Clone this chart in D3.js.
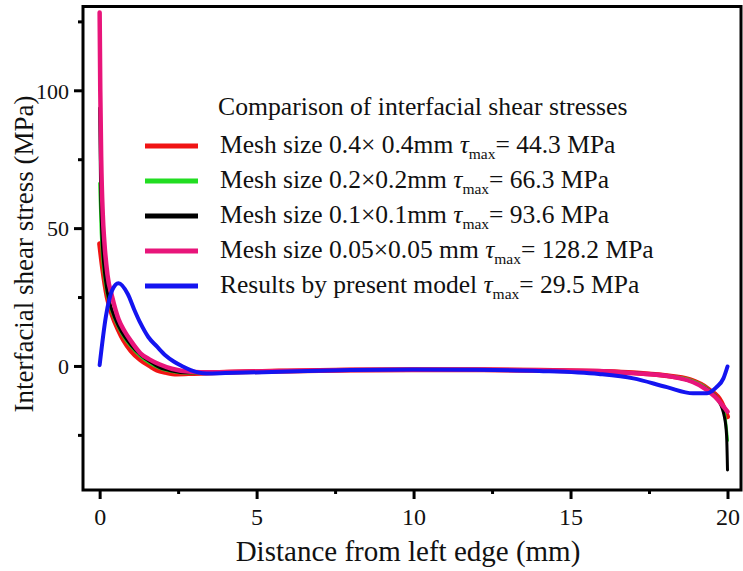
<!DOCTYPE html>
<html>
<head>
<meta charset="utf-8">
<script src="https://cdn.jsdelivr.net/npm/d3@7"></script>
<style>
  html, body { margin: 0; padding: 0; background: #fff; }
  svg text { font-family: "Liberation Serif", "Times New Roman", serif; fill: #111; }
</style>
</head>
<body>
<div id="chart"></div>
<script>
// x positions (mm) and stresses (MPa)
const meshX04 = [0, 0.1, 0.24, 0.4, 0.6, 0.76, 1.0, 1.3, 1.6, 1.83, 2.1, 2.46, 3.0, 4, 6, 8, 10, 12, 14, 16, 17, 18, 18.8, 19.4, 19.8, 20];
const meshY04 = [44.3, 35, 25, 18.5, 13, 9.4, 5.5, 2.2, 0, -1.5, -2.3, -2.9, -2.7, -2.3, -1.8, -1.5, -1.4, -1.4, -1.6, -2.0, -2.5, -3.5, -5, -8.5, -13, -18.4];

const meshX02 = [0, 0.05, 0.12, 0.24, 0.4, 0.6, 0.8, 1.0, 1.3, 1.6, 1.9, 2.3, 2.8, 3.5, 4.5, 6, 8, 10, 12, 14, 16, 17, 18, 18.8, 19.4, 19.7, 19.9, 20];
const meshY02 = [66.3, 48, 36, 26, 19.5, 14, 10, 7, 3.5, 1.0, -0.8, -2.0, -2.6, -2.5, -2.2, -1.8, -1.5, -1.4, -1.4, -1.6, -2.0, -2.5, -3.5, -5, -8.6, -12, -17, -27];

const meshX01 = [0, 0.03, 0.07, 0.13, 0.24, 0.4, 0.6, 0.8, 1.0, 1.3, 1.6, 1.9, 2.3, 2.8, 3.5, 4.5, 6, 8, 10, 12, 14, 16, 17, 18, 19.0, 19.4, 19.7, 19.9, 19.97, 20];
const meshY01 = [93.6, 65, 48, 37, 27, 20, 14.5, 10.5, 7.5, 4, 1.5, -0.5, -1.8, -2.5, -2.5, -2.2, -1.8, -1.5, -1.4, -1.4, -1.6, -2.0, -2.5, -3.5, -6.3, -8.8, -12.3, -18.4, -25, -37.7];

const meshX005 = [0, 0.02, 0.05, 0.1, 0.15, 0.25, 0.4, 0.6, 0.8, 1.0, 1.3, 1.6, 1.9, 2.3, 2.9, 3.5, 4.5, 6, 8, 10, 12, 14, 15.9, 17, 18.07, 19.1, 19.6, 20];
const meshY005 = [128.2, 100, 75, 55, 45, 33, 25, 17, 12.5, 9, 4.6, 2.3, 0.6, -1.0, -2.1, -2.3, -2.1, -1.8, -1.5, -1.4, -1.4, -1.6, -1.8, -2.6, -3.6, -6.9, -11.1, -16.6];

const modelX = [0, 0.2, 0.4, 0.6, 0.9, 1.1, 1.3, 1.55, 1.83, 2.1, 2.36, 2.65, 2.9, 3.4, 4, 6, 8, 10, 12, 14, 15.9, 17.0, 18.07, 18.9, 19.35, 19.65, 19.87, 20];
const modelY = [0.3, 18, 27.5, 30, 26, 20.5, 15.5, 10.5, 7, 3.8, 1.6, -0.2, -1.5, -2.7, -2.6, -2.0, -1.5, -1.3, -1.4, -1.8, -2.9, -4.5, -7.7, -9.9, -9.9, -7.7, -4.5, -0.2];

const seriesNames = ['Mesh size 0.4\u00d7 0.4mm ', 'Mesh size 0.2\u00d70.2mm ', 'Mesh size 0.1\u00d70.1mm ', 'Mesh size 0.05\u00d70.05 mm ', 'Results by present model '];
const tauMax = ['44.3', '66.3', '93.6', '128.2', '29.5'];
const seriesColors = ['#f01414', '#22dd22', '#000000', '#e8157a', '#1414f0'];
const seriesWidths = [5, 3, 3, 4.5, 4];
const seriesX = [meshX04, meshX02, meshX01, meshX005, modelX];
const seriesY = [meshY04, meshY02, meshY01, meshY005, modelY];

const xMajor = [0, 5, 10, 15, 20];
const xMinor = [2.5, 7.5, 12.5, 17.5];
const yMajor = [0, 50, 100];
const yMinor = [-25, 25, 75, 125];

const legendTitle = 'Comparison of interfacial shear stresses';
const xTitle = 'Distance from left edge (mm)';
const yTitle = 'Interfacial shear stress (MPa)';

const W = 743, H = 571;
const serif = '"Liberation Serif", "Times New Roman", serif';
const svg = d3.select('#chart').append('svg').attr('width', W).attr('height', H);

const x = d3.scaleLinear().domain([-0.53, 20.43]).range([83, 741]);
const y = d3.scaleLinear().domain([-45, 130.4]).range([490, 6.5]);

// curves
const line = d3.line().x(d => x(d[0])).y(d => y(d[1])).curve(d3.curveMonotoneX);
seriesX.forEach((xs, i) => {
  svg.append('path')
    .datum(xs.map((v, j) => [v, seriesY[i][j]]))
    .attr('d', line)
    .attr('fill', 'none')
    .attr('stroke', seriesColors[i])
    .attr('stroke-width', seriesWidths[i])
    .attr('stroke-linejoin', 'round')
    .attr('stroke-linecap', 'round');
});

// axes
const xAxis = svg.append('g').attr('transform', 'translate(0,490)')
  .call(d3.axisBottom(x).tickValues(xMajor).tickSize(9).tickFormat(d3.format('d')));
svg.append('g').attr('transform', 'translate(0,490)')
  .call(d3.axisBottom(x).tickValues(xMinor).tickSize(4).tickFormat(''));
const yAxis = svg.append('g').attr('transform', 'translate(83,0)')
  .call(d3.axisLeft(y).tickValues(yMajor).tickSize(9).tickFormat(d3.format('d')));
svg.append('g').attr('transform', 'translate(83,0)')
  .call(d3.axisLeft(y).tickValues(yMinor).tickSize(5).tickFormat(''));

svg.selectAll('.domain').remove();
svg.selectAll('.tick line').attr('stroke', '#000').attr('stroke-width', 3);
xAxis.attr('font-family', null);
yAxis.attr('font-family', null);
xAxis.selectAll('.tick text').style('font-family', serif).style('font-size', '24px')
  .attr('dy', 0).attr('y', 35);
yAxis.selectAll('.tick text').style('font-family', serif).style('font-size', '22px')
  .attr('x', -14).attr('dy', '0.35em');

// frame
svg.append('rect')
  .attr('x', x.range()[0]).attr('y', y.range()[1])
  .attr('width', x.range()[1] - x.range()[0]).attr('height', y.range()[0] - y.range()[1])
  .attr('fill', 'none').attr('stroke', '#000').attr('stroke-width', 3);

// axis titles
svg.append('text').attr('x', 408).attr('y', 561)
  .attr('text-anchor', 'middle').attr('font-size', 29).text(xTitle);
svg.append('text').attr('transform', 'translate(33,254) rotate(-90)')
  .attr('text-anchor', 'middle').attr('font-size', 27).text(yTitle);

// legend
svg.append('text').attr('x', 218).attr('y', 115).attr('font-size', 25.7).text(legendTitle);
const leg = svg.append('g');
seriesNames.forEach((name, i) => {
  const ly = 146 + i * 35;
  leg.append('line').attr('x1', 145).attr('x2', 198).attr('y1', ly).attr('y2', ly)
    .attr('stroke', seriesColors[i]).attr('stroke-width', 5);
  const t = leg.append('text').attr('x', 220).attr('y', ly + 7).attr('font-size', 25.5);
  t.append('tspan').text(name);
  t.append('tspan').attr('font-style', 'italic').text('\u03c4');
  t.append('tspan').attr('font-size', 15.5).attr('dy', 6).text('max');
  t.append('tspan').attr('dy', -6).text('= ' + tauMax[i] + ' MPa');
});
</script>
</body>
</html>
